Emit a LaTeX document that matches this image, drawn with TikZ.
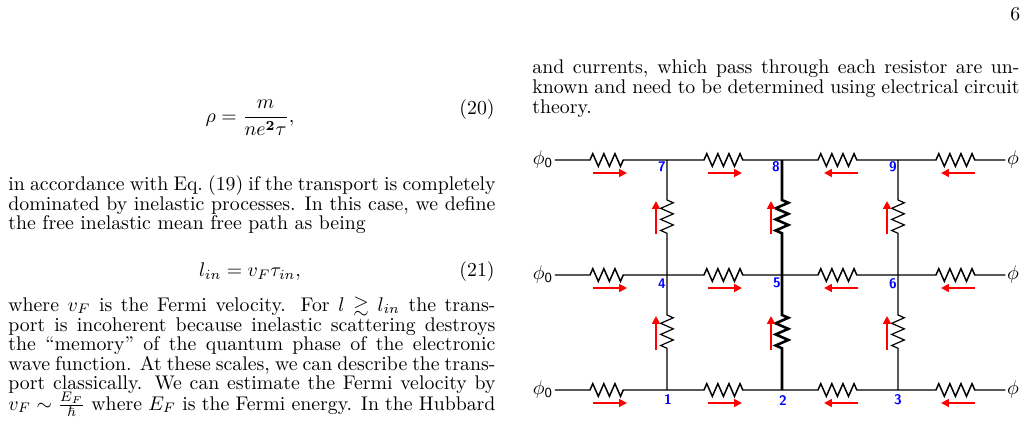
\documentclass[tikz,border=0pt]{standalone}
\usepackage{amsmath,amssymb}
\usetikzlibrary{decorations.pathmorphing,arrows.meta}
\tikzset{
  txt/.style={anchor=base west, inner sep=0pt},
  res/.style={decoration={zigzag, segment length=5.6pt, amplitude=3.2pt}},
  cur/.style={red, line width=0.9pt, -{Triangle[length=4pt,width=4pt]}},
  num/.style={blue, font=\sffamily\bfseries\fontsize{7}{8}\selectfont, inner sep=0pt},
  pot/.style={inner sep=0.5pt, font=\sffamily},
}
\newcommand{\jline}[1]{\makebox[246pt][s]{#1}}
\begin{document}
\begin{tikzpicture}[x=0.505pt, y=-0.505pt]
\useasboundingbox (0,0) rectangle (1028,439);
% page number
\node[txt] (page) at (1010,20) {6};
% left column
\node (rho) at (250,118) {$\displaystyle \rho=\frac{m}{ne^{\mathbf 2}\tau},$};
\node[anchor=base east, inner sep=0pt] (eq20) at (495,114) {(20)};
\node[txt] (p1) at (8,190) {\jline{in accordance with Eq.~(19) if the transport is completely}};
\node[txt] (p2) at (8,210) {\jline{dominated by inelastic processes. In this case, we define}};
\node[txt] (p3) at (8,229) {the free inelastic mean free path as being};
\node (lin) at (250,272) {$l_{in}=v_F\tau_{in},$};
\node[anchor=base east, inner sep=0pt] (eq21) at (495,276) {(21)};
\node[txt] (p4) at (8,311) {\jline{where $v_F$ is the Fermi velocity. For $l\gtrsim l_{in}$ the trans-}};
\node[txt] (p5) at (8,331) {\jline{port is incoherent because inelastic scattering destroys}};
\node[txt] (p6) at (8,350) {\jline{the ``memory'' of the quantum phase of the electronic}};
\node[txt] (p7) at (8,370) {\jline{wave function. At these scales, we can describe the trans-}};
\node[txt] (p8) at (8,389) {\jline{port classically. We can estimate the Fermi velocity by}};
\node[txt] (p9) at (8,410) {\jline{$v_F\sim\frac{E_F}{\hbar}$ where $E_F$ is the Fermi energy. In the Hubbard}};
% right column
\node[txt] (q1) at (532,73) {\jline{and currents, which pass through each resistor are un-}};
\node[txt] (q2) at (532,93) {\jline{known and need to be determined using electrical circuit}};
\node[txt] (q3) at (532,113) {theory.};

% circuit
\begin{scope}[line width=0.75pt]
\foreach \y/\a/\b/\c in {160/7/8/9, 275/4/5/6, 390/1/2/3} {
  \node[pot] (L\a) at (543,\y) {$\phi_{\mathsf 0}$};
  \node[pot] (R\a) at (1013,\y) {$\phi$};
  \coordinate (j\a) at (667,\y);
  \coordinate (j\b) at (782,\y);
  \coordinate (j\c) at (898,\y);
  \draw (L\a.east) -- (590,\y) decorate[res]{-- (628,\y)} -- (j\a)
        -- (704,\y) decorate[res]{-- (743,\y)} -- (j\b)
        -- (818,\y) decorate[res]{-- (858,\y)} -- (j\c)
        -- (936,\y) decorate[res]{-- (975,\y)} -- (R\a.west);
  \draw[cur] (593,\y+13) -- (627,\y+13);
  \draw[cur] (708,\y+13) -- (742,\y+13);
  \draw[cur] (858,\y+13) -- (824,\y+13);
  \draw[cur] (975,\y+13) -- (941,\y+13);
}
\foreach \x/\t/\m/\b/\w in {667/7/4/1/0.6pt, 782/8/5/2/1.3pt, 898/9/6/3/0.6pt} {
  \draw[line width=\w] (j\t) -- (\x,200) decorate[res]{-- (\x,238)} -- (j\m)
        -- (\x,315) decorate[res]{-- (\x,353)} -- (j\b);
  \draw[cur] (\x-11,234) -- (\x-11,201);
  \draw[cur] (\x-11,350) -- (\x-11,316);
}
\end{scope}
\node[num] (n7) at (662,167) {7};
\node[num] (n8) at (776,167) {8};
\node[num] (n9) at (893,167) {9};
\node[num] (n4) at (662,284) {4};
\node[num] (n5) at (777,283) {5};
\node[num] (n6) at (893,284) {6};
\node[num] (n1) at (668,400) {1};
\node[num] (n2) at (783,401) {2};
\node[num] (n3) at (898,400) {3};
\end{tikzpicture}
\end{document}
